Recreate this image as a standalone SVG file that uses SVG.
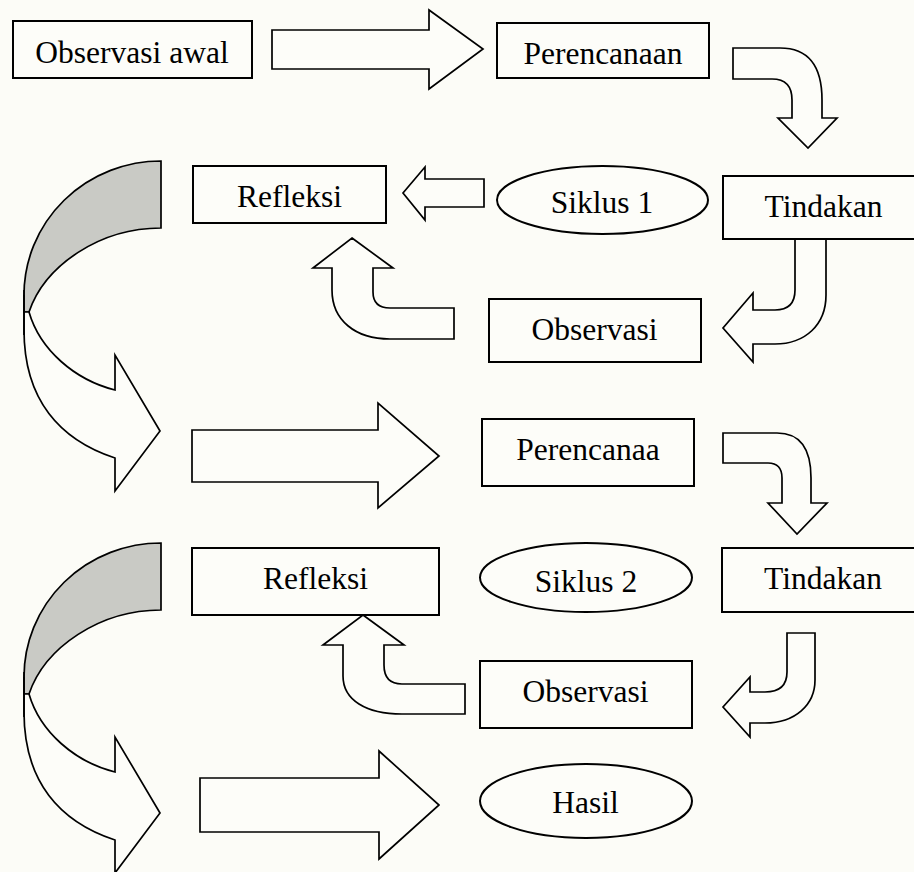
<svg xmlns="http://www.w3.org/2000/svg" width="914" height="872" viewBox="0 0 914 872">
<style>
.box{fill:#fdfdf9;stroke:#000;stroke-width:2}
.arr{fill:#fdfdf9;stroke:#000;stroke-width:1.7;stroke-linejoin:miter}
.shade{fill:#c9cac5;stroke:#000;stroke-width:1.7}
.t{font-family:"Liberation Serif","Times New Roman",serif;font-size:31.5px;fill:#000;text-anchor:middle}
</style>
<defs>
<g id="bigCurve">
<path class="shade" d="M161,161 A137,134 0 0 0 24,295 L24,312 L29,312 C45,265 100,228 161,228 Z"/>
<path class="arr" d="M24,295 L24,330 C24,400 60,440 115,458 L115,491 L160,431 L115,355 L115,390 C75,380 40,350 29,312 L24,312 Z"/>
<path fill="none" stroke="#000" stroke-width="1.7" d="M24,290 L24,335"/>
</g>
</defs>
<rect width="914" height="872" fill="#fcfcf7"/>
<g id="connectors">
<path class="arr" d="M272,30 L429,30 L429,10 L483,49 L429,89 L429,69 L272,69 Z"/>
<path class="arr" d="M733,48 L780,48 Q822,48 822,100 L822,118 L837,118 L808,148 L778,118 L792,118 L792,100 Q792,79 772,79 L733,79 Z"/>
<path class="arr" d="M484,179 L425,179 L425,167 L403,193 L425,220 L425,207 L484,207 Z"/>
<path class="arr" d="M795,239 L826,239 L826,295 C826,325 805,344 775,344 L753,344 L753,362 L723,328 L753,293 L753,310 L775,310 Q795,310 795,290 Z"/>
<path class="arr" d="M352,238 L393,268 L373,268 L373,292 Q373,308 390,308 L454,308 L454,339 L390,339 C355,339 332,320 332,290 L332,268 L313,268 Z"/>
<use href="#bigCurve"/>
<path class="arr" d="M192,430 L378,430 L378,403 L439,456 L378,508 L378,482 L192,482 Z"/>
<path class="arr" d="M723,433 L777,433 Q811,433 811,478 L811,503 L827,503 L797,534 L768,503 L782,503 L782,478 Q782,463 768,463 L723,463 Z"/>
<path class="arr" d="M787,633 L815,633 L815,680 C815,705 795,723 765,723 L750,723 L750,737 L723,707 L750,677 L750,692 L765,692 Q787,692 787,672 Z"/>
<path class="arr" d="M363,615 L404,645 L384,645 L384,665 Q384,684 402,684 L465,684 L465,714 L402,714 C366,714 343,700 343,676 L343,645 L323,645 Z"/>
<use href="#bigCurve" transform="translate(0,382)"/>
<path class="arr" d="M200,778 L379,778 L379,751 L439,805 L379,859 L379,832 L200,832 Z"/>
</g>
<g id="observasi-awal"><rect class="box" x="13" y="21" width="239" height="57"/><text class="t" x="132" y="63">Observasi awal</text></g>
<g id="perencanaan-1"><rect class="box" x="497" y="23" width="212" height="55"/><text class="t" x="603" y="64">Perencanaan</text></g>
<g id="refleksi-1"><rect class="box" x="193" y="166" width="193" height="57"/><text class="t" x="289.5" y="207">Refleksi</text></g>
<g id="siklus-1"><ellipse class="box" cx="602.5" cy="200" rx="105.5" ry="34"/><text class="t" x="602" y="213">Siklus 1</text></g>
<g id="tindakan-1"><rect class="box" x="723" y="176" width="194" height="63"/><text class="t" x="823.5" y="217">Tindakan</text></g>
<g id="observasi-1"><rect class="box" x="489" y="299" width="212" height="63"/><text class="t" x="594.5" y="340">Observasi</text></g>
<g id="perencanaa-2"><rect class="box" x="482" y="419" width="212" height="67"/><text class="t" x="588" y="460">Perencanaa</text></g>
<g id="refleksi-2"><rect class="box" x="192" y="548" width="247" height="67"/><text class="t" x="315.5" y="589">Refleksi</text></g>
<g id="siklus-2"><ellipse class="box" cx="586" cy="577.5" rx="106" ry="34.5"/><text class="t" x="586" y="592">Siklus 2</text></g>
<g id="tindakan-2"><rect class="box" x="722" y="548" width="195" height="64"/><text class="t" x="823" y="589">Tindakan</text></g>
<g id="observasi-2"><rect class="box" x="480" y="661" width="212" height="67"/><text class="t" x="585.5" y="702">Observasi</text></g>
<g id="hasil"><ellipse class="box" cx="586" cy="801" rx="106" ry="37"/><text class="t" x="585.5" y="813">Hasil</text></g>
</svg>
